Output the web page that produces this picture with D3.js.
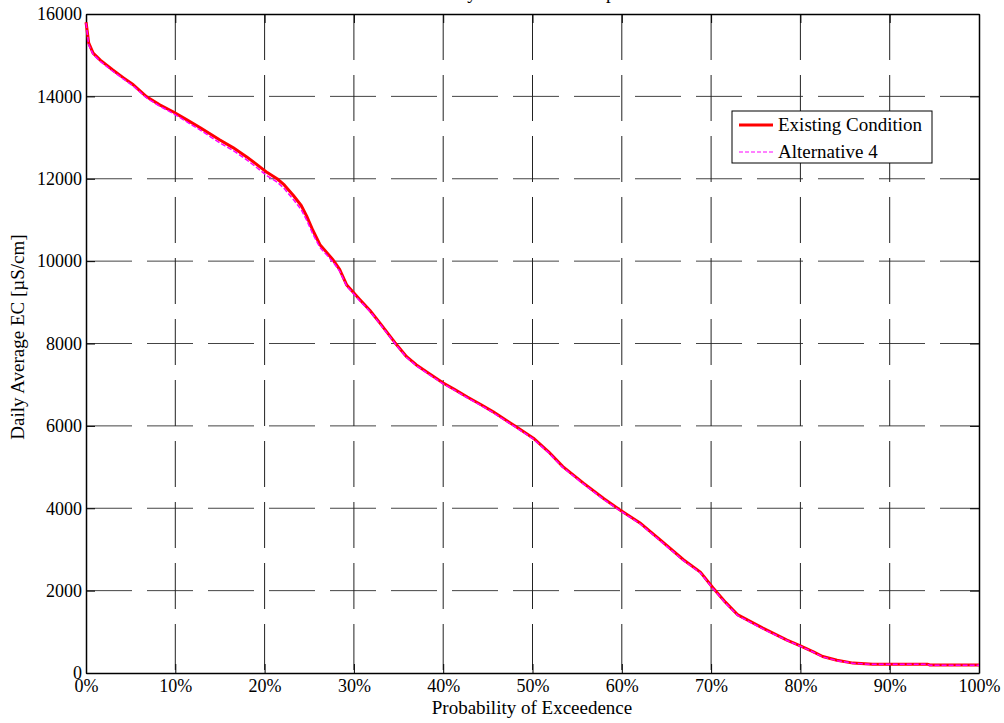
<!DOCTYPE html>
<html><head><meta charset="utf-8">
<script src="https://cdn.jsdelivr.net/npm/d3@7"></script>
<style>body{margin:0;background:#fff}svg{display:block}text{font-family:"Liberation Serif","Times New Roman",serif;fill:#000}</style>
</head><body>
<svg id="c" width="1004" height="723"></svg>
<script>
const titleText = "Daily EC Exceedence plot";
const xLabel = "Probability of Exceedence";
const yLabel = "Daily Average EC [\u00b5S/cm]";
const seriesNames = ["Existing Condition", "Alternative 4"];
const xTicks = [0,0.1,0.2,0.3,0.4,0.5,0.6,0.7,0.8,0.9,1.0];
const yTicks = [0,2000,4000,6000,8000,10000,12000,14000,16000];
const prob = [0,0.1,0.3,0.8,1.6,3,4.2,5.3,6.8,8.2,9.8,11.3,12.8,15,16.5,18,20.3,21.4,22.2,23.2,24.1,24.7,25.4,26.2,27.0,27.7,28.4,29.2,30.6,31.8,32.9,34.6,35.9,37.0,38.2,40,41.3,42.7,44.2,45.6,47.0,48.3,50.1,51.8,53.4,55.7,58.0,59.8,62,64.3,66.9,68.8,70.2,71.6,73,75.8,78.5,80,81.4,82.5,84.1,85.9,88.1,94.2,94.5,100];
const existing = [15800,15650,15300,15050,14880,14640,14450,14280,13990,13800,13620,13430,13240,12940,12750,12530,12150,12000,11850,11600,11350,11100,10750,10400,10200,10020,9800,9420,9080,8800,8500,8020,7680,7480,7300,7040,6880,6700,6520,6340,6140,5960,5700,5370,5010,4610,4230,3960,3650,3230,2750,2450,2070,1720,1410,1090,800,660,520,400,310,240,215,215,195,195];
const alt4 = [15780,15620,15250,15020,14850,14610,14420,14250,13960,13770,13580,13380,13180,12870,12680,12460,12070,11920,11760,11500,11250,11000,10660,10330,10140,9970,9760,9390,9050,8780,8480,8000,7660,7460,7280,7020,6860,6680,6500,6320,6120,5940,5680,5350,4990,4590,4210,3940,3630,3210,2730,2430,2050,1700,1390,1070,790,650,510,390,300,235,210,210,190,190];

const L=86,R=979,T=14,B=673;
const svg=d3.select("#c");
const x=d3.scaleLinear().domain([0,1]).range([L,R]);
const y=d3.scaleLinear().domain([0,16000]).range([B,T]);

// grid
const g=svg.append("g");
g.selectAll(".hg").data(yTicks.slice(1,-1)).join("line")
 .attr("x1",L).attr("x2",R).attr("y1",d=>y(d)).attr("y2",d=>y(d))
 .attr("stroke","#444").attr("stroke-width",1).attr("stroke-dasharray","46,15");
g.selectAll(".vg").data(xTicks.slice(1,-1)).join("line")
 .attr("x1",d=>x(d)).attr("x2",d=>x(d)).attr("y1",T).attr("y2",B)
 .attr("stroke","#222").attr("stroke-width",1).attr("stroke-dasharray","46,15");

// axes
const fs="18px";
const ax=svg.append("g").attr("transform",`translate(0,${B})`)
 .call(d3.axisBottom(x).tickValues(xTicks).tickFormat(d=>Math.round(d*100)+"%").tickSizeInner(-9).tickSizeOuter(0).tickPadding(6));
const ay=svg.append("g").attr("transform",`translate(${L},0)`)
 .call(d3.axisLeft(y).tickValues(yTicks).tickFormat(d3.format("d")).tickSizeInner(-9).tickSizeOuter(0).tickPadding(4));
const axt=svg.append("g").attr("transform",`translate(0,${T})`)
 .call(d3.axisTop(x).tickValues(xTicks).tickFormat("").tickSizeInner(-9).tickSizeOuter(0));
const ayr=svg.append("g").attr("transform",`translate(${R},0)`)
 .call(d3.axisRight(y).tickValues(yTicks).tickFormat("").tickSizeInner(-9).tickSizeOuter(0));
[ax,ay,axt,ayr].forEach(a=>{a.select(".domain").attr("stroke","#000").attr("stroke-width",1.5);
 a.selectAll(".tick line").attr("stroke","#000");
 a.selectAll("text").style("font-family","Liberation Serif").style("font-size",fs).attr("fill","#000");});
ax.selectAll("text").attr("y",19).attr("dy",0);

// lines
const line=d3.line().x((d,i)=>x(prob[i]/100)).y(d=>y(d));
svg.append("path").datum(existing).attr("d",line).attr("fill","none").attr("stroke","#ff0000").attr("stroke-width",3).attr("stroke-linejoin","round");
svg.append("path").datum(alt4).attr("d",line).attr("fill","none").attr("stroke","#ff00ff").attr("stroke-width",1.5).attr("stroke-dasharray","5,2");

// labels
svg.append("text").attr("x",532).attr("y",714).attr("text-anchor","middle").style("font-size","19px").text(xLabel);
svg.append("text").attr("transform","translate(24,337) rotate(-90)").attr("text-anchor","middle").style("font-size","19px").text(yLabel);
svg.append("text").attr("x",535).attr("y",-1).attr("text-anchor","middle").style("font-size","19px").text(titleText);

// legend
const lg=svg.append("g");
lg.append("rect").attr("x",732).attr("y",111).attr("width",200).attr("height",52).attr("fill","#fff").attr("stroke","#000").attr("stroke-width",1);
const rows=[{n:seriesNames[0],c:"#ff0000",w:3,da:null},{n:seriesNames[1],c:"#ff00ff",w:1,da:"4,2"}];
rows.forEach((r,i)=>{const yy=125+i*27;
 lg.append("line").attr("x1",739).attr("x2",773).attr("y1",yy).attr("y2",yy).attr("stroke",r.c).attr("stroke-width",r.w).attr("stroke-dasharray",r.da);
 lg.append("text").attr("x",778).attr("y",yy).attr("dy","0.33em").style("font-size","19px").text(r.n);});
</script>
</body></html>
